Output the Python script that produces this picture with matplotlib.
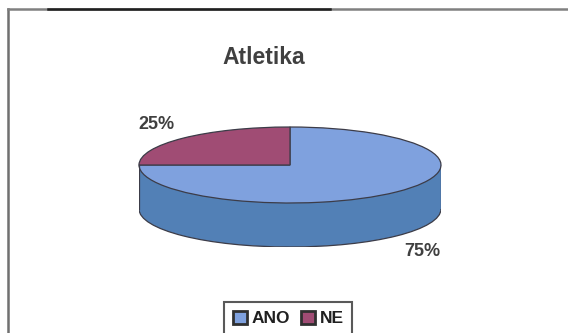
import matplotlib.pyplot as plt
from matplotlib.patches import Rectangle, Arc
from matplotlib.lines import Line2D

plt.rcParams['font.family'] = ['Liberation Sans', 'DejaVu Sans']

# Atletika survey answers
categories = ['ANO', 'NE']
shares = [75, 25]

top_colors = ['#7fa1de', '#a04c74']
side_colors = ['#5280b6', '#7a3556']
edge = '#3c3c48'

W, H = 568, 333
fig = plt.figure(figsize=(W / 100, H / 100), dpi=100)

# pie body: top ellipse box plus the depth of the side
x0, x1 = 139, 441
y_top, y_face, y_bot = 127, 203, 247
depth = (y_bot - y_face) / ((y_face - y_top) / 2)

ax = fig.add_axes([x0 / W, 1 - y_bot / H, (x1 - x0) / W, (y_bot - y_top) / H])

# side of the cylinder
ax.pie(shares, colors=side_colors, startangle=180, counterclock=True,
       center=(0, -depth), radius=1, frame=True)
ax.add_patch(Rectangle((-1, -depth), 2, depth, facecolor=side_colors[0],
                       edgecolor='none', zorder=1.5))
ax.add_patch(Arc((0, -depth), 2, 2, theta1=180, theta2=360, color=edge,
                 lw=0.9, zorder=3))
ax.plot([-1, -1], [-depth, 0], color=edge, lw=0.9, zorder=3)
ax.plot([1, 1], [-depth, 0], color=edge, lw=0.9, zorder=3)

# top face
wedges, _ = ax.pie(shares, colors=top_colors, startangle=180, counterclock=True,
                   center=(0, 0), radius=1, frame=True,
                   wedgeprops=dict(edgecolor=edge, linewidth=0.9))
for w in wedges:
    w.set_zorder(2)

ax.set_aspect('auto')
ax.set_xlim(-1, 1)
ax.set_ylim(-1 - depth, 1)
ax.axis('off')

# title and percentage labels
fig.text(264 / W, 1 - 57 / H, 'Atletika', ha='center', va='center',
         fontsize=16.5, fontweight='bold', color='#404040')
label_pos = [(422, 251), (156, 124)]
for v, (px, py) in zip(shares, label_pos):
    fig.text(px / W, 1 - py / H, f'{v:.0f}%', ha='center', va='center',
             fontsize=13, fontweight='bold', color='#404040')

# chart frame (top and left edges)
fig.add_artist(Line2D([8 / W, 8 / W], [0, 1 - 9 / H], color='#707070', lw=1.8))
fig.add_artist(Line2D([8 / W, 1], [1 - 9 / H, 1 - 9 / H], color='#808080', lw=1.8))
fig.add_artist(Line2D([48 / W, 330 / W], [1 - 9 / H, 1 - 9 / H], color='#202020', lw=1.8))

# legend
handles = [Rectangle((0, 0), 1, 1, facecolor=c, edgecolor='#303030', lw=2)
           for c in top_colors]
leg = fig.legend(handles, categories, loc='upper left',
                 bbox_to_anchor=(224 / W, 1 - 302 / H), borderaxespad=0,
                 ncol=2, fancybox=False, frameon=True, edgecolor='#303030',
                 handlelength=0.8, handleheight=0.8, handletextpad=0.3,
                 columnspacing=0.6, borderpad=0.5,
                 prop=dict(weight='bold', size=12.5))
leg.get_frame().set_linewidth(1.5)
for t in leg.get_texts():
    t.set_color('#202020')

fig.savefig('out.png', dpi=100)
